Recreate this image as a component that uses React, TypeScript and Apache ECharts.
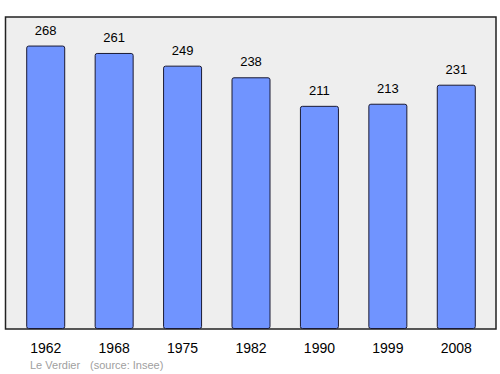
import React, { useEffect, useRef } from "react";
import * as echarts from "echarts";

const years = ["1962", "1968", "1975", "1982", "1990", "1999", "2008"];
const population = [268, 261, 249, 238, 211, 213, 231];
const footerPlace = "Le Verdier";
const footerSource = "(source: Insee)";

export default function App() {
  const ref = useRef<HTMLDivElement>(null);
  useEffect(() => {
    if (!ref.current) return;
    const chart = echarts.init(ref.current, undefined, { renderer: "svg" });
    chart.setOption({
      animation: false,
      textStyle: { fontFamily: "Liberation Sans, Arial, sans-serif" },
      graphic: [
        {
          type: "rect",
          z: -10,
          shape: { x: 5.5, y: 17, width: 490.5, height: 312 },
          style: { fill: "#eeeeee", stroke: "#222222", lineWidth: 1.5 },
        },
        {
          type: "text",
          x: 30,
          y: 365,
          style: {
            text: footerPlace,
            fill: "#a0a0a0",
            font: "11px Liberation Sans, Arial, sans-serif",
            verticalAlign: "middle",
          },
        },
        {
          type: "text",
          x: 90,
          y: 365,
          style: {
            text: footerSource,
            fill: "#a0a0a0",
            font: "11px Liberation Sans, Arial, sans-serif",
            verticalAlign: "middle",
          },
        },
      ],
      grid: { left: 11.5, right: 9.5, top: 17, bottom: 45, containLabel: false },
      xAxis: {
        type: "category",
        data: years,
        axisLine: { show: false },
        axisTick: { show: false },
        axisLabel: { color: "#000", fontSize: 14, margin: 12 },
      },
      yAxis: {
        type: "value",
        min: 0,
        max: 295,
        show: false,
        splitLine: { show: false },
      },
      series: [
        {
          type: "bar",
          data: population,
          barWidth: 39,
          itemStyle: {
            color: "#7094ff",
            borderColor: "#1a1a33",
            borderWidth: 1,
            borderRadius: 2,
          },
          label: {
            show: true,
            position: "top",
            distance: 9,
            color: "#000",
            fontSize: 13,
          },
        },
      ],
    });
    return () => chart.dispose();
  }, []);
  return (
    <div
      ref={ref}
      style={{ position: "fixed", left: 0, top: 0, width: 500, height: 374, background: "#fff" }}
    />
  );
}
